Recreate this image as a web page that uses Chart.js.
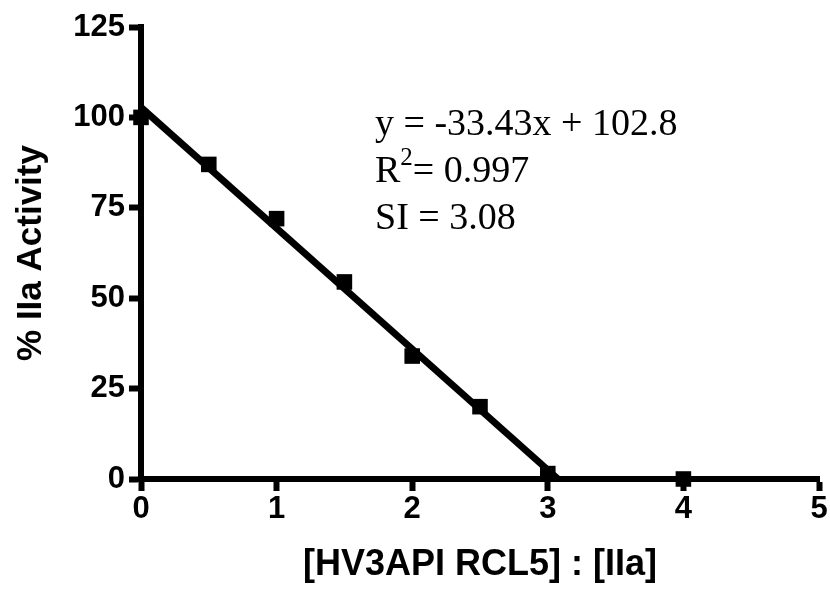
<!DOCTYPE html>
<html>
<head>
<meta charset="utf-8">
<script src="https://cdn.jsdelivr.net/npm/chart.js@4"></script>
<style>
  html, body { margin: 0; padding: 0; background: #fff; }
  #wrap { width: 830px; height: 589px; }
</style>
</head>
<body>
<div id="wrap"><canvas id="chart"></canvas></div>
<script>
// data
const ratioX = [0, 0.5, 1, 1.5, 2, 2.5, 3, 4]
const activityY = [100, 87, 72, 54.5, 34, 20, 1.5, 0]
// regression line ends (y = -33.43x + 102.8, cut at y = 0)
const fitX = [0, 3.075]
const fitY = [102.8, 0]
const xTicks = [0, 1, 2, 3, 4, 5]
const yTicks = [0, 25, 50, 75, 100, 125]
const noteLines = ['y = -33.43x + 102.8', 'R2= 0.997', 'SI = 3.08']

const FONT = '"Liberation Sans", Arial, sans-serif'
const SERIF = '"Liberation Serif", "Times New Roman", serif'

// equation / R² / SI text inside plot
const notePlugin = {
  id: 'notes',
  afterDraw(chart){
    const ctx = chart.ctx
    ctx.save()
    ctx.fillStyle = '#000'
    ctx.textBaseline = 'alphabetic'
    ctx.font = '38px ' + SERIF
    const x0 = 375
    ctx.fillText(noteLines[0], x0, 135)
    // R with superscript 2
    ctx.fillText('R', x0, 182)
    const rw = ctx.measureText('R').width
    ctx.font = '25px ' + SERIF
    ctx.fillText('2', x0 + rw, 165)
    const sw = ctx.measureText('2').width
    ctx.font = '38px ' + SERIF
    ctx.fillText(noteLines[1].slice(2), x0 + rw + sw, 182)
    ctx.fillText(noteLines[2], x0, 229)
    ctx.restore()
  }
}

new Chart(document.getElementById('chart'), {
  type: 'scatter',
  data: {
    datasets: [
      {
        label: 'fit',
        data: fitX.map((x, i) => ({x, y: fitY[i]})),
        showLine: true,
        borderColor: '#000',
        borderWidth: 7,
        pointRadius: 0,
        clip: false
      },
      {
        label: 'data',
        data: ratioX.map((x, i) => ({x, y: activityY[i]})),
        pointStyle: 'rect',
        pointRadius: 11,
        backgroundColor: '#000',
        borderColor: '#000',
        borderWidth: 0,
        clip: false
      }
    ]
  },
  options: {
    responsive: true,
    maintainAspectRatio: false,
    animation: false,
    layout: { padding: { top: 27, right: 10, left: 0, bottom: 0 } },
    plugins: { legend: { display: false }, tooltip: { enabled: false } },
    scales: {
      x: {
        type: 'linear', min: 0, max: 5,
        afterBuildTicks: s => { s.ticks = xTicks.map(v => ({value: v})) },
        afterFit: s => { s.height = 110 },
        border: { display: true, color: '#000', width: 6 },
        grid: { drawOnChartArea: false, drawTicks: true, tickLength: 12, tickWidth: 6, tickColor: '#000' },
        ticks: { color: '#000', font: { family: FONT, size: 31, weight: 'bold' }, padding: 0, maxRotation: 0 },
        title: { display: true, text: '[HV3API RCL5] : [IIa]', color: '#000', font: { family: FONT, size: 36, weight: 'bold' }, padding: { top: 4, bottom: 2 } }
      },
      y: {
        type: 'linear', min: 0, max: 125,
        afterBuildTicks: s => { s.ticks = yTicks.map(v => ({value: v})) },
        afterFit: s => { s.width = 141 },
        border: { display: true, color: '#000', width: 6 },
        grid: { drawOnChartArea: false, drawTicks: true, tickLength: 12, tickWidth: 6, tickColor: '#000' },
        ticks: { color: '#000', font: { family: FONT, size: 31, weight: 'bold' }, padding: 4 },
        title: { display: true, text: '% IIa Activity', color: '#000', font: { family: FONT, size: 35, weight: 'bold' }, padding: { top: 10, bottom: 8 } }
      }
    }
  },
  plugins: [notePlugin]
})
</script>
</body>
</html>
